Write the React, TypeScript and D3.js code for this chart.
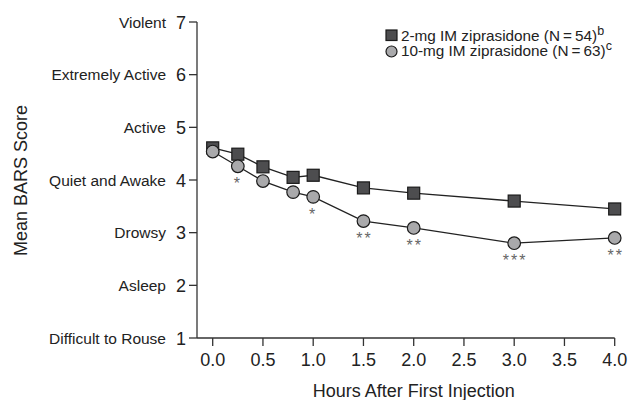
import { useEffect, useRef } from 'react';
import * as d3 from 'd3';

const hours = [0, 0.25, 0.5, 0.8, 1.0, 1.5, 2.0, 3.0, 4.0];
const lowDose = [4.61, 4.49, 4.25, 4.05, 4.09, 3.85, 3.75, 3.6, 3.45];
const highDose = [4.54, 4.26, 3.98, 3.77, 3.68, 3.22, 3.09, 2.8, 2.9];
const highDoseStars = ['', '*', '', '', '*', '**', '**', '***', '**'];
const scoreLabels = ['Difficult to Rouse', 'Asleep', 'Drowsy', 'Quiet and Awake', 'Active', 'Extremely Active', 'Violent'];
const xTicks = [0, 0.5, 1, 1.5, 2, 2.5, 3, 3.5, 4];

const W = 629;
const H = 400;
const FONT = 'Liberation Sans, Arial, sans-serif';

const App = () => {
    const svgRef = useRef<SVGSVGElement>(null);

    useEffect(() => {
        const svg = d3.select(svgRef.current);
        svg.selectAll('*').remove();

        const x = d3.scaleLinear().domain([0, 4]).range([212.7, 614.7]);
        const y = d3.scaleLinear().domain([1, 7]).range([338, 22]);
        const axisLeftX = 197;
        const textColor = '#222';

        // axes
        svg.append('line')
            .attr('x1', axisLeftX).attr('x2', axisLeftX)
            .attr('y1', y(7)).attr('y2', y(1))
            .attr('stroke', '#333').attr('stroke-width', 1.3);
        svg.append('line')
            .attr('x1', axisLeftX).attr('x2', x(4))
            .attr('y1', y(1)).attr('y2', y(1))
            .attr('stroke', '#333').attr('stroke-width', 1.3);

        const yt = svg.append('g').selectAll('g')
            .data(d3.range(1, 8))
            .join('g')
            .attr('transform', d => `translate(0,${y(d)})`);
        yt.append('line').attr('x1', axisLeftX - 8).attr('x2', axisLeftX).attr('stroke', '#333').attr('stroke-width', 1.3);
        yt.append('text')
            .attr('x', 186).attr('y', 6.5)
            .attr('text-anchor', 'end')
            .style('font-family', FONT).style('font-size', '18px').attr('fill', textColor)
            .text(d => d);
        yt.append('text')
            .attr('x', 166).attr('y', 5.5)
            .attr('text-anchor', 'end')
            .style('font-family', FONT).style('font-size', '15.5px').attr('fill', textColor)
            .text(d => scoreLabels[d - 1]);

        const xt = svg.append('g').selectAll('g')
            .data(xTicks)
            .join('g')
            .attr('transform', d => `translate(${x(d)},${y(1)})`);
        xt.append('line').attr('y1', 0).attr('y2', 8).attr('stroke', '#333').attr('stroke-width', 1.3);
        xt.append('text')
            .attr('y', 28)
            .attr('text-anchor', 'middle')
            .style('font-family', FONT).style('font-size', '18px').attr('fill', textColor)
            .text(d => d.toFixed(1));

        svg.append('text')
            .attr('x', x(2)).attr('y', 397)
            .attr('text-anchor', 'middle')
            .style('font-family', FONT).style('font-size', '18px').attr('fill', textColor)
            .text('Hours After First Injection');
        svg.append('text')
            .attr('transform', `translate(27,180.5) rotate(-90)`)
            .attr('text-anchor', 'middle')
            .style('font-family', FONT).style('font-size', '18px').attr('fill', textColor)
            .text('Mean BARS Score');

        // lines
        const line = d3.line<number>().x((_, i) => x(hours[i])).y(d => y(d));
        svg.append('path').attr('d', line(lowDose)).attr('fill', 'none').attr('stroke', '#222').attr('stroke-width', 1.3);
        svg.append('path').attr('d', line(highDose)).attr('fill', 'none').attr('stroke', '#222').attr('stroke-width', 1.3);

        const s = 12;
        svg.append('g').selectAll('rect')
            .data(lowDose)
            .join('rect')
            .attr('x', (_, i) => x(hours[i]) - s / 2)
            .attr('y', d => y(d) - s / 2)
            .attr('width', s).attr('height', s)
            .attr('fill', '#4d4d4f').attr('stroke', '#1a1a1a').attr('stroke-width', 1.2);

        svg.append('g').selectAll('circle')
            .data(highDose)
            .join('circle')
            .attr('cx', (_, i) => x(hours[i]))
            .attr('cy', d => y(d))
            .attr('r', 6.3)
            .attr('fill', '#a9a9ab').attr('stroke', '#1a1a1a').attr('stroke-width', 1.2);

        // significance markers, spaced out a little like the original
        svg.append('g').selectAll('text')
            .data(highDose)
            .join('text')
            .attr('x', (_, i) => x(hours[i]) + (highDoseStars[i].length > 1 ? 1 : 0))
            .attr('y', d => y(d) + 23)
            .attr('text-anchor', 'middle')
            .style('font-family', FONT).style('font-size', '16px').style('letter-spacing', '2px').attr('fill', '#666')
            .text((_, i) => highDoseStars[i]);

        // legend
        const lg = svg.append('g');
        lg.append('rect').attr('x', 386).attr('y', 30).attr('width', 11).attr('height', 10.5)
            .attr('fill', '#4d4d4f').attr('stroke', '#1a1a1a').attr('stroke-width', 1.2);
        lg.append('circle').attr('cx', 391.5).attr('cy', 51.5).attr('r', 5.5)
            .attr('fill', '#a9a9ab').attr('stroke', '#1a1a1a').attr('stroke-width', 1.2);
        const rows = [
            { label: '2-mg IM ziprasidone (N\u2009=\u200954)', sup: 'b', yy: 40.5 },
            { label: '10-mg IM ziprasidone (N\u2009=\u200963)', sup: 'c', yy: 56 },
        ];
        rows.forEach(r => {
            const t = lg.append('text')
                .attr('x', 401).attr('y', r.yy)
                .style('font-family', FONT).style('font-size', '15.3px').attr('fill', textColor);
            t.append('tspan').text(r.label);
            t.append('tspan').attr('dy', -6).style('font-size', '12.5px').text(r.sup);
        });
    }, []);

    return <svg ref={svgRef} width={W} height={H} style={{ position: 'absolute', left: 0, top: 0 }} />;
};

export default App;
